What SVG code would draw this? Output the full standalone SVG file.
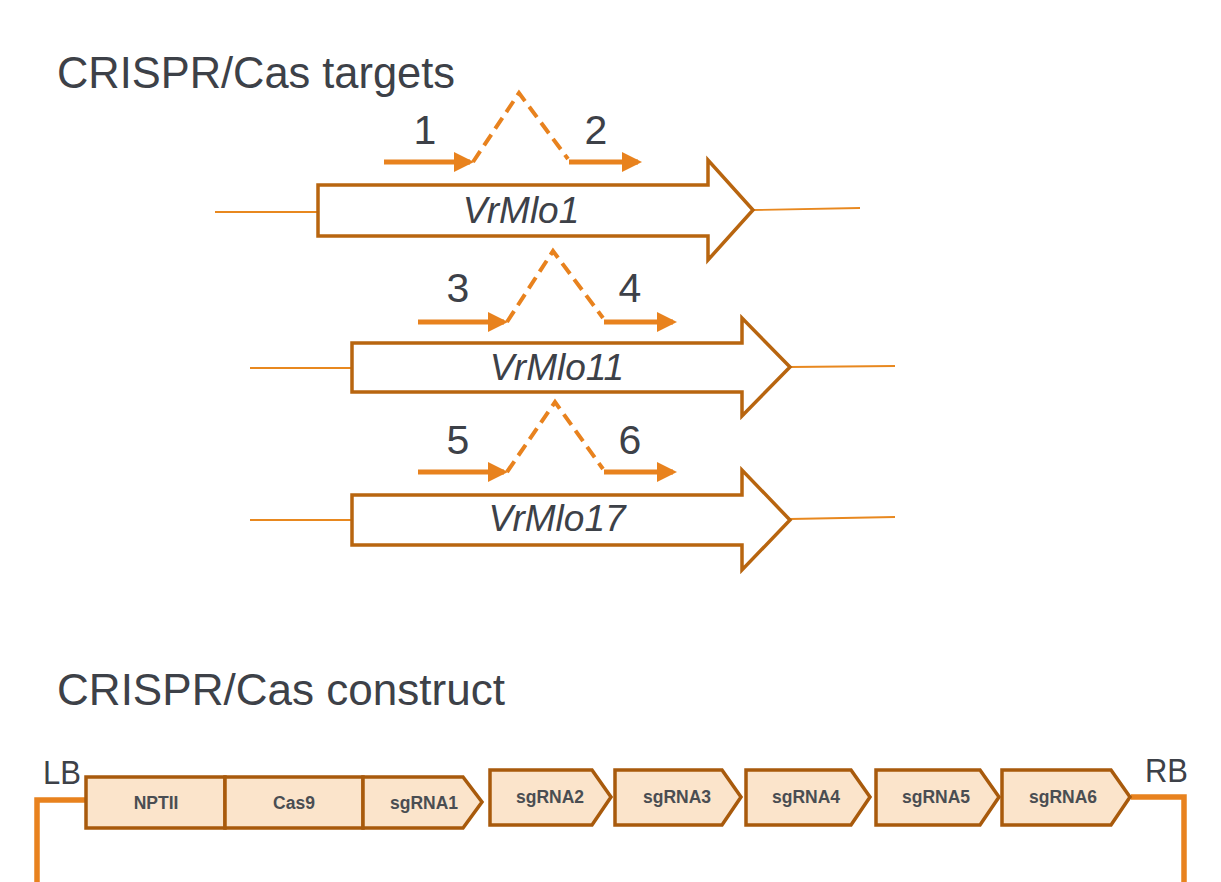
<svg xmlns="http://www.w3.org/2000/svg" width="1221" height="882" viewBox="0 0 1221 882">
<style>
.title{font-family:"Liberation Sans",Arial,sans-serif;font-size:45px;fill:#3d4148}
.num{font-family:"Liberation Sans",Arial,sans-serif;font-size:41px;fill:#3d4148;text-anchor:middle}
.gene{font-family:"Liberation Sans",Arial,sans-serif;font-style:italic;font-size:37px;fill:#3d4148;text-anchor:middle}
.lbl{font-family:"Liberation Sans",Arial,sans-serif;font-size:33px;fill:#3d4148}
.box{font-family:"Liberation Sans",Arial,sans-serif;font-weight:bold;font-size:17.5px;fill:#4a4d52;text-anchor:middle;dominant-baseline:central}
.garrow{fill:#fff;stroke:#b8650f;stroke-width:3.5;stroke-linejoin:miter}
.flank{stroke:#e8881f;stroke-width:1.8;fill:none}
.primer{stroke:#e8821e;stroke-width:5;fill:none}
.dash{stroke:#e8821e;stroke-width:4;fill:none;stroke-dasharray:13 7}
.part{fill:#fbe4cb;stroke:#a85a0c;stroke-width:3.5;stroke-linejoin:miter}
.bb{stroke:#e8821e;stroke-width:5.5;fill:none;stroke-linejoin:miter}
</style>
<defs>
<marker id="ah" viewBox="0 0 10 10" refX="8" refY="5" markerWidth="4" markerHeight="4" orient="auto" markerUnits="strokeWidth">
<path d="M0,0 L10,5 L0,10 z" fill="#e8821e"/>
</marker>
</defs>
<rect width="1221" height="882" fill="#ffffff"/>
<text class="title" x="57" y="88" textLength="398" lengthAdjust="spacingAndGlyphs">CRISPR/Cas targets</text>
<text class="title" x="57" y="705" textLength="448" lengthAdjust="spacingAndGlyphs">CRISPR/Cas construct</text>

<g id="gene1">
<line class="flank" x1="215" y1="212" x2="318" y2="212"/>
<line class="flank" x1="753" y1="210" x2="860" y2="208"/>
<path class="garrow" d="M318,185 L708,185 L708,160 L753,210 L708,260 L708,236 L318,236 Z"/>
<text class="gene" x="521" y="223">VrMlo1</text>
</g>
<g id="gene2">
<line class="flank" x1="250" y1="368" x2="352" y2="368"/>
<line class="flank" x1="790" y1="367" x2="895" y2="366"/>
<path class="garrow" d="M352,343 L742,343 L742,318 L790,367 L742,416 L742,392 L352,392 Z"/>
<text class="gene" x="557" y="380">VrMlo11</text>
</g>
<g id="gene3">
<line class="flank" x1="250" y1="520" x2="352" y2="520"/>
<line class="flank" x1="790" y1="519" x2="895" y2="517"/>
<path class="garrow" d="M352,495 L742,495 L742,470 L790,520 L742,570 L742,545 L352,545 Z"/>
<text class="gene" x="557" y="531">VrMlo17</text>
</g>

<g id="targets">
<text class="num" x="425" y="144">1</text>
<text class="num" x="596" y="144">2</text>
<text class="num" x="458" y="302">3</text>
<text class="num" x="630" y="302">4</text>
<text class="num" x="458" y="454">5</text>
<text class="num" x="630" y="454">6</text>
</g>

<g id="connectors">
<line class="primer" x1="384" y1="162" x2="470" y2="162" marker-end="url(#ah)"/>
<polyline class="dash" points="473,162 519,93 568,159"/>
<line class="primer" x1="569" y1="162" x2="638" y2="162" marker-end="url(#ah)"/>

<line class="primer" x1="418" y1="322" x2="504" y2="322" marker-end="url(#ah)"/>
<polyline class="dash" points="507,322 553,251 603,318"/>
<line class="primer" x1="604" y1="322" x2="673" y2="322" marker-end="url(#ah)"/>

<line class="primer" x1="418" y1="472" x2="504" y2="472" marker-end="url(#ah)"/>
<polyline class="dash" points="507,472 555,402 603,469"/>
<line class="primer" x1="604" y1="472" x2="673" y2="472" marker-end="url(#ah)"/>

<polyline class="bb" points="86,800 37,800 37,882"/>
<polyline class="bb" points="1131,797 1184,797 1184,882"/>
</g>

<text class="lbl" x="43" y="784" textLength="38" lengthAdjust="spacingAndGlyphs">LB</text>
<text class="lbl" x="1145" y="782" textLength="43" lengthAdjust="spacingAndGlyphs">RB</text>

<g id="nptii"><rect class="part" x="86" y="777" width="139" height="51"/><text class="box" x="156" y="803">NPTII</text></g>
<g id="cas9"><rect class="part" x="225" y="777" width="138" height="51"/><text class="box" x="294" y="803">Cas9</text></g>
<g id="sgrna1"><path class="part" d="M363,777 L463,777 L482,802 L463,828 L363,828 Z"/><text class="box" x="424" y="803">sgRNA1</text></g>
<g id="sgrna2"><path class="part" d="M490,770 L592,770 L611,797 L592,825 L490,825 Z"/><text class="box" x="550" y="797">sgRNA2</text></g>
<g id="sgrna3"><path class="part" d="M615,770 L722,770 L741,797 L722,825 L615,825 Z"/><text class="box" x="677" y="797">sgRNA3</text></g>
<g id="sgrna4"><path class="part" d="M746,770 L851,770 L870,797 L851,825 L746,825 Z"/><text class="box" x="806" y="797">sgRNA4</text></g>
<g id="sgrna5"><path class="part" d="M876,770 L980,770 L999,797 L980,825 L876,825 Z"/><text class="box" x="936" y="797">sgRNA5</text></g>
<g id="sgrna6"><path class="part" d="M1002,770 L1111,770 L1130,797 L1111,825 L1002,825 Z"/><text class="box" x="1063" y="797">sgRNA6</text></g>
</svg>
